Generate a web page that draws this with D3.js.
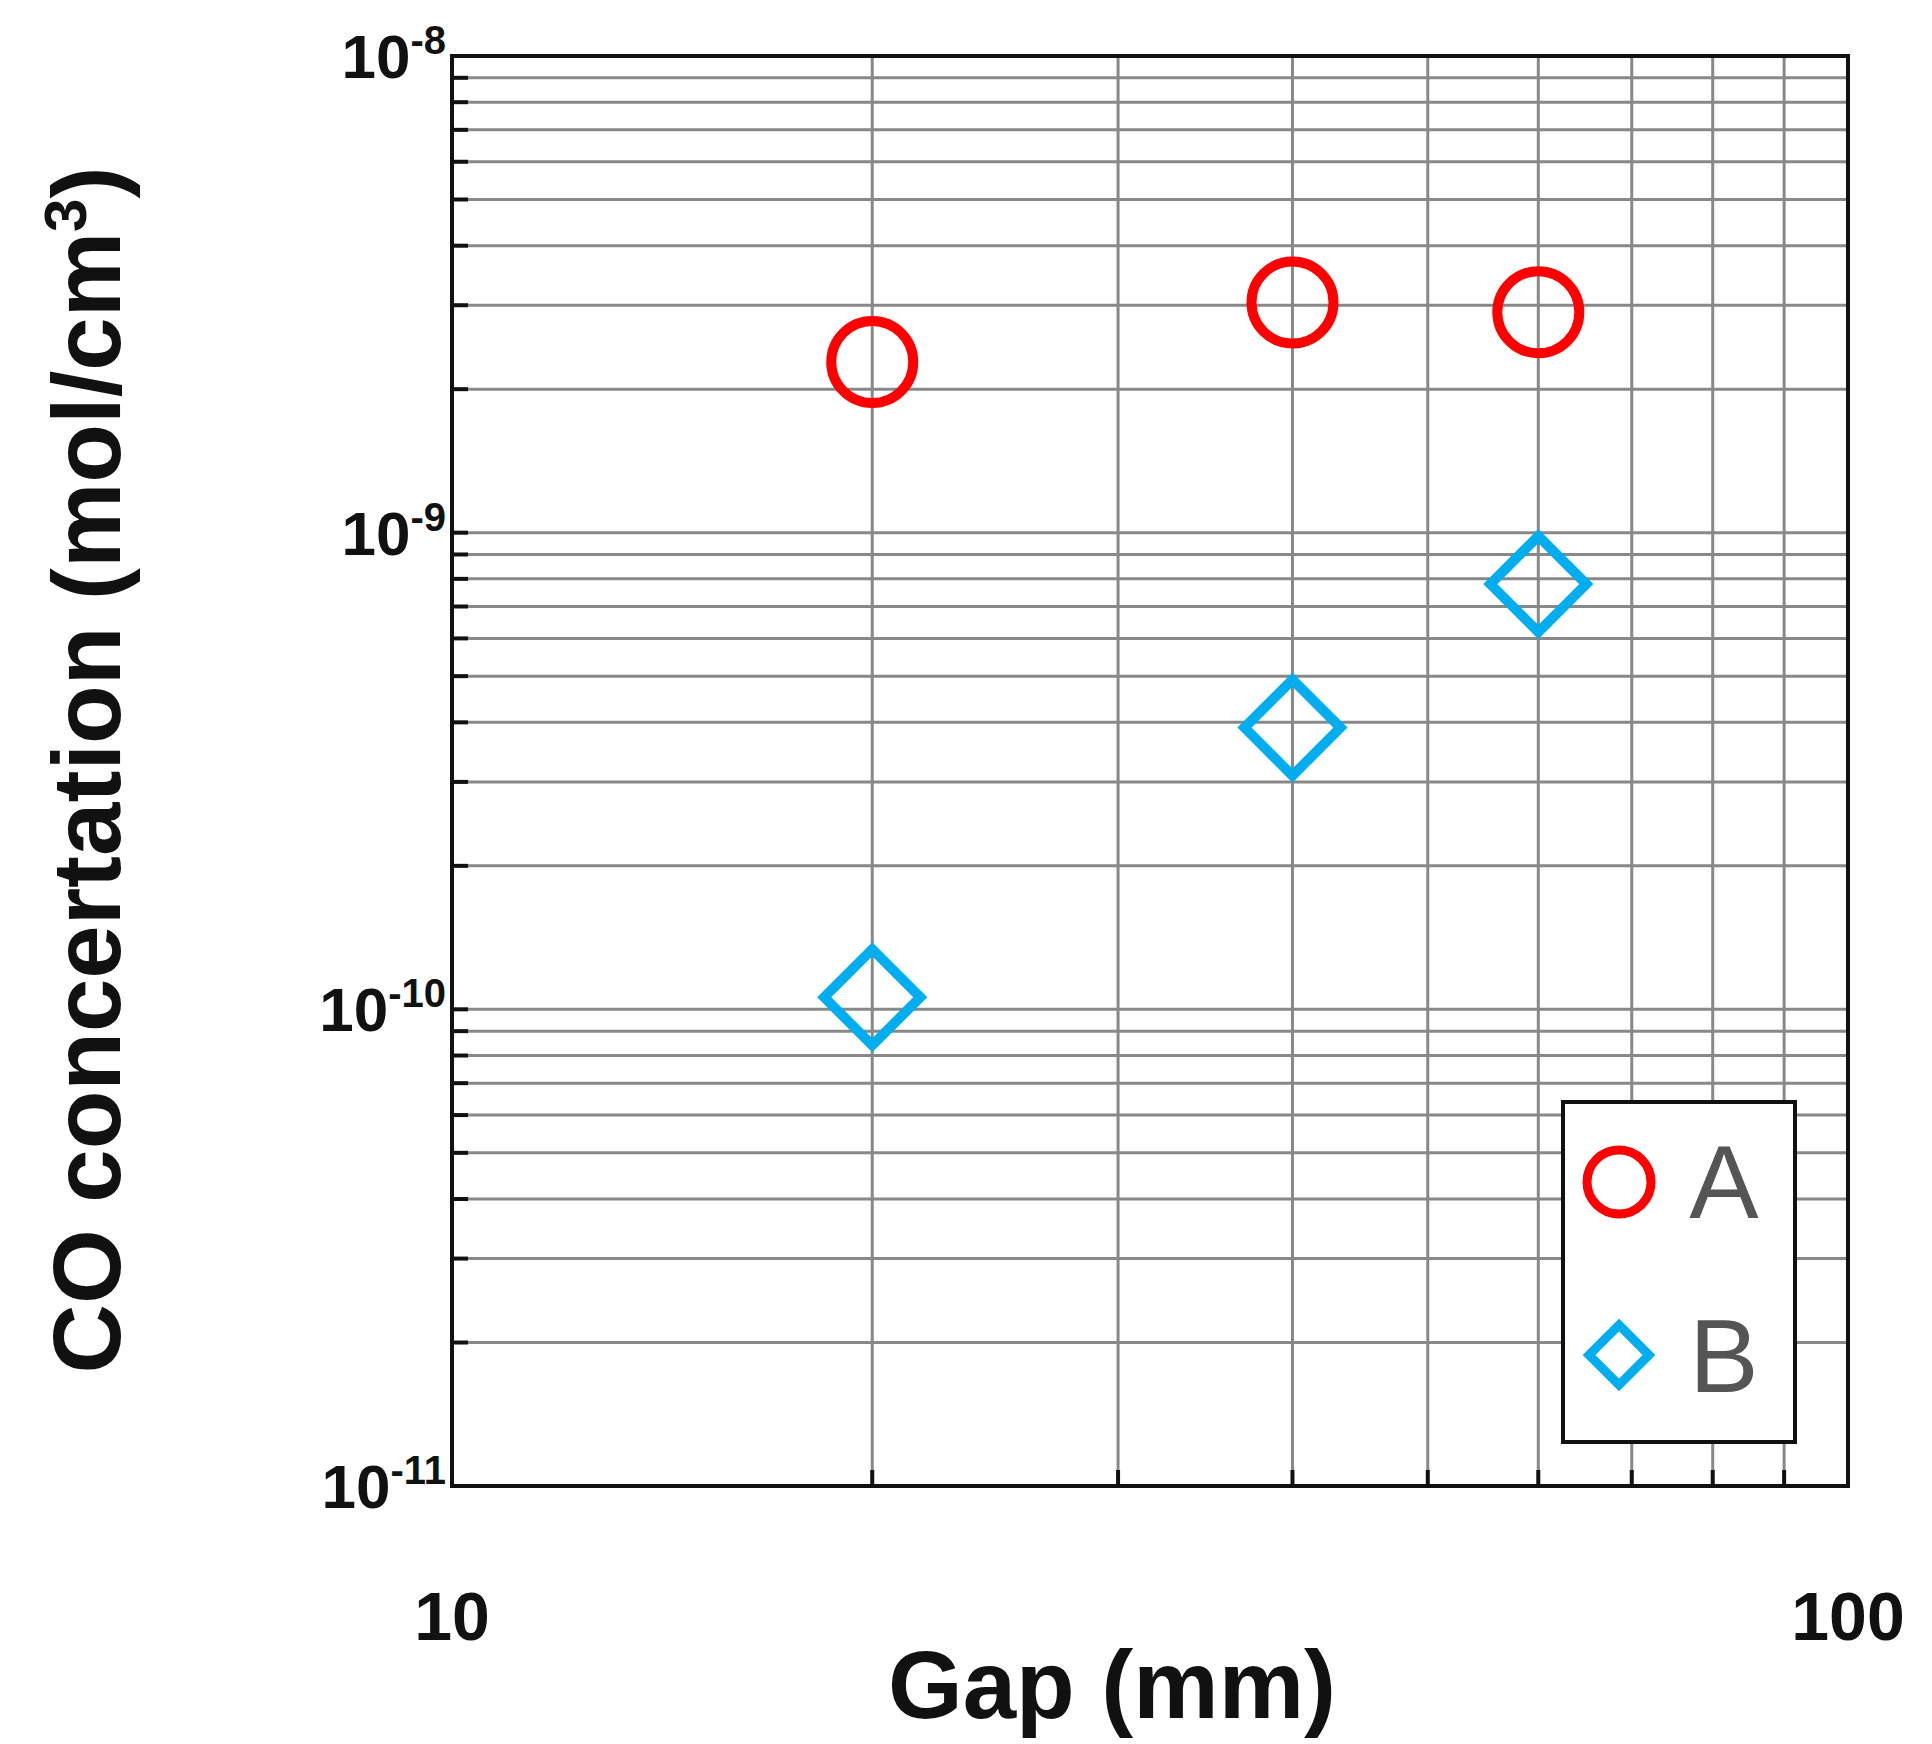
<!DOCTYPE html>
<html><head><meta charset="utf-8">
<script src="https://cdn.jsdelivr.net/npm/d3@7"></script>
<style>body{margin:0;background:#fff}text{font-family:Arial,"Liberation Sans",sans-serif}</style>
</head><body><svg id="chart" width="1932" height="1744"></svg>
<script>
const gaps = [20, 40, 60];
const seriesA = [2.28e-9, 3.04e-9, 2.9e-9];
const seriesB = [1.06e-10, 3.9e-10, 7.8e-10];
const yDecades = [-8, -9, -10, -11];

const svg = d3.select("#chart");
const pLeft = 452, pRight = 1848, pTop = 56, pBottom = 1486;
const x = d3.scaleLog().domain([10, 100]).range([pLeft, pRight]);
const y = d3.scaleLog().domain([1e-11, 1e-8]).range([pBottom, pTop]);

const xMinor = d3.range(2, 10).map(d => d * 10);
const yMinor = [];
[-11, -10, -9].forEach(e => { for (let k = 2; k <= 9; k++) yMinor.push(k * Math.pow(10, e)); });
yMinor.push(1e-10, 1e-9);

const grid = svg.append("g").attr("stroke", "#888").attr("stroke-width", 3);
grid.selectAll(".vx").data(xMinor).enter().append("line")
  .attr("x1", d => x(d)).attr("x2", d => x(d)).attr("y1", pTop).attr("y2", pBottom);
grid.selectAll(".hy").data(yMinor).enter().append("line")
  .attr("y1", d => y(d)).attr("y2", d => y(d)).attr("x1", pLeft).attr("x2", pRight);

// inner ticks
const ticks = svg.append("g").attr("stroke", "#111").attr("stroke-width", 4);
ticks.selectAll(".tx").data(xMinor).enter().append("line")
  .attr("x1", d => x(d)).attr("x2", d => x(d)).attr("y1", pBottom).attr("y2", pBottom - 16);
ticks.selectAll(".ty").data(yMinor).enter().append("line")
  .attr("y1", d => y(d)).attr("y2", d => y(d)).attr("x1", pLeft).attr("x2", pLeft + 16);

svg.append("rect").attr("x", pLeft).attr("y", pTop).attr("width", pRight - pLeft).attr("height", pBottom - pTop)
  .attr("fill", "none").attr("stroke", "#111").attr("stroke-width", 4);

// y tick labels
yDecades.forEach(e => {
  const t = svg.append("text").attr("x", 446).attr("y", y(Math.pow(10, e)) + 22)
    .attr("text-anchor", "end").attr("font-size", 62).attr("font-weight", "bold").attr("fill", "#111");
  t.append("tspan").text("10");
  t.append("tspan").attr("dy", -24).attr("font-size", 40).text(String(e));
});
[10, 100].forEach(v => {
  svg.append("text").attr("x", x(v)).attr("y", 1640).attr("text-anchor", "middle")
    .attr("font-size", 68).attr("font-weight", "bold").attr("fill", "#111").text(v);
});
svg.append("text").attr("x", 1112).attr("y", 1718).attr("text-anchor", "middle")
  .attr("font-size", 96).attr("font-weight", "bold").attr("fill", "#111").text("Gap (mm)");
const yt = svg.append("text").attr("transform", "translate(120,770) rotate(-90)").attr("text-anchor", "middle")
  .attr("font-size", 96).attr("font-weight", "bold").attr("fill", "#111");
yt.append("tspan").text("CO concertation (mol/cm");
yt.append("tspan").attr("dy", -34).attr("font-size", 60).text("3");
yt.append("tspan").attr("dy", 34).text(")");

const diamond = s => `M0,${-s}L${s},0L0,${s}L${-s},0Z`;
svg.selectAll(".a").data(gaps).enter().append("circle")
  .attr("cx", d => x(d)).attr("cy", (d, i) => y(seriesA[i])).attr("r", 41)
  .attr("fill", "none").attr("stroke", "#f00").attr("stroke-width", 10);
svg.selectAll(".b").data(gaps).enter().append("path")
  .attr("transform", (d, i) => `translate(${x(d)},${y(seriesB[i])})`).attr("d", diamond(48))
  .attr("fill", "none").attr("stroke", "#00aeef").attr("stroke-width", 10);

// legend
const lg = svg.append("g");
lg.append("rect").attr("x", 1563).attr("y", 1102).attr("width", 232).attr("height", 340)
  .attr("fill", "#fff").attr("stroke", "#111").attr("stroke-width", 4);
lg.append("circle").attr("cx", 1619).attr("cy", 1182).attr("r", 32)
  .attr("fill", "none").attr("stroke", "#f00").attr("stroke-width", 9);
lg.append("path").attr("transform", "translate(1619,1355)").attr("d", diamond(30))
  .attr("fill", "none").attr("stroke", "#00aeef").attr("stroke-width", 9);
[["A", 1218], ["B", 1392]].forEach(([t, yy]) => {
  lg.append("text").attr("x", 1724).attr("y", yy).attr("text-anchor", "middle")
    .attr("font-size", 104).attr("fill", "#555").text(t);
});
</script></body></html>
